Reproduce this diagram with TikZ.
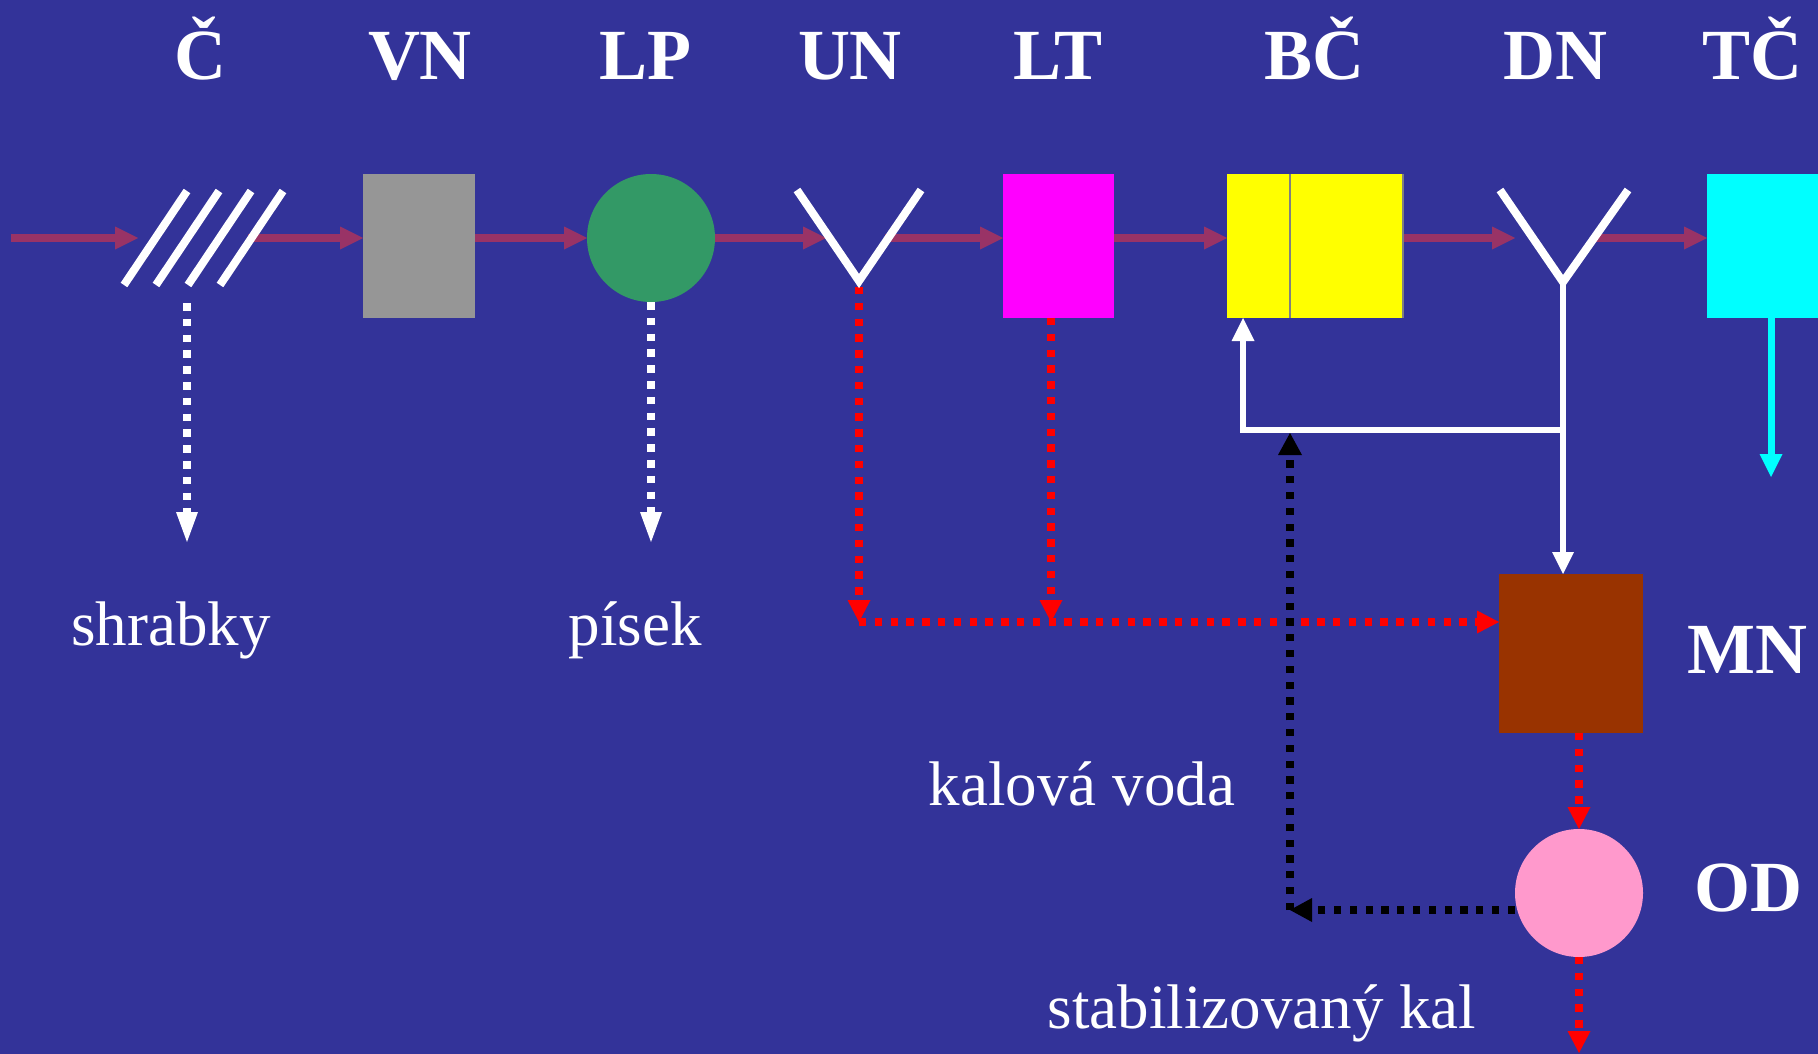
\documentclass[tikz,border=0pt]{standalone}
\usepackage{fontspec}
\setmainfont{Liberation Serif}
\usetikzlibrary{arrows.meta}
\pgfdeclarelayer{bg}
\pgfdeclarelayer{conn}
\pgfsetlayers{bg,conn,main}
\definecolor{bgblue}{RGB}{51,51,153}
\definecolor{flowc}{RGB}{153,51,102}
\definecolor{vngray}{RGB}{150,150,150}
\definecolor{lpgreen}{RGB}{51,153,102}
\definecolor{mnbrown}{RGB}{153,51,0}
\definecolor{odpink}{RGB}{255,153,204}
\definecolor{divgray}{RGB}{128,128,128}
\definecolor{ltmag}{RGB}{255,0,255}
\definecolor{bcyel}{RGB}{255,255,0}
\definecolor{tccyan}{RGB}{0,255,255}
\definecolor{dotred}{RGB}{255,0,0}
\begin{document}
\begin{tikzpicture}[x=1pt,y=-1pt,
  code/.style={text=white,font=\fontsize{72}{80}\selectfont\bfseries,inner sep=0pt,anchor=base},
  lbl/.style={text=white,font=\fontsize{63}{70}\selectfont,inner sep=0pt,anchor=base},
  box/.style={rectangle,inner sep=0pt,outer sep=0pt,draw=none},
  disc/.style={circle,inner sep=0pt,outer sep=0pt,draw=none,minimum size=128pt},
  flow/.style={draw=flowc,line width=8pt,-{Triangle[length=23pt,width=23pt,line width=0pt]}},
  wdot/.style={draw=white,line width=7.5pt,dash pattern=on 7.5pt off 8.3pt,-{Triangle[length=30pt,width=22pt,line width=0pt]}},
  rdot/.style={draw=dotred,line width=7.3pt,dash pattern=on 7.3pt off 8.5pt,-{Triangle[length=22pt,width=23pt,line width=0pt]}},
  kdot/.style={draw=black,line width=7.3pt,dash pattern=on 7.3pt off 8.5pt,-{Triangle[length=22pt,width=24pt,line width=0pt]}},
  sym/.style={draw=white,line width=8pt,line join=miter},
  wline/.style={draw=white,line width=6.5pt,line join=miter},
  cline/.style={draw=tccyan,line width=7pt,-{Triangle[length=23pt,width=23pt,line width=0pt]}},
]
\useasboundingbox (0,0) rectangle (1818,1054);
\begin{pgfonlayer}{bg}
\fill[bgblue] (0,0) rectangle (1818,1054);
\end{pgfonlayer}

% titles
\node[code] (tC)  at (200,80) {Č};
\node[code] (tVN) at (420,80) {VN};
\node[code] (tLP) at (645,80) {LP};
\node[code] (tUN) at (850,80) {UN};
\node[code] (tLT) at (1058,80) {LT};
\node[code] (tBC) at (1314,80) {BČ};
\node[code] (tDN) at (1555,80) {DN};
\node[code] (tTC) at (1752,80) {TČ};
\node[code] (tMN) at (1747,673) {MN};
\node[code] (tOD) at (1748,911) {OD};

% units
\node[box,fill=vngray,minimum width=112pt,minimum height=144pt] (VN) at (419,246) {};
\node[disc,fill=lpgreen] (LP) at (651,238) {};
\node[box,fill=ltmag,minimum width=111pt,minimum height=144pt] (LT) at (1058.5,246) {};
\node[box,fill=bcyel,minimum width=176pt,minimum height=144pt] (BC) at (1315,246) {};
\draw[divgray,line width=1.5pt] (1290,174) -- (1290,318);
\draw[divgray,line width=1.5pt] (1403,174) -- (1403,318);
\node[box,fill=tccyan,minimum width=111pt,minimum height=144pt] (TC) at (1762.5,246) {};
\node[box,fill=mnbrown,minimum width=144pt,minimum height=159pt] (MN) at (1571,653.5) {};
\node[disc,fill=odpink] (OD) at (1579,893) {};

% screen bars
\foreach \i in {0,1,2,3} \draw[sym] (124+32*\i,285) -- (187+32*\i,191);
% UN and DN symbols
\draw[sym] (797,190) -- (859,281) -- (921,190);
\draw[sym] (1500,190) -- (1563,282) -- (1628,190);

% labels
\node[lbl] (lS) at (171,645) {shrabky};
\node[lbl] (lP) at (635,645) {písek};
\node[lbl] (lK) at (1082,805) {kalová voda};
\node[lbl] (lSt) at (1262,1028) {stabilizovaný kal};

% coordinates
\coordinate (fy) at (0,238);
\coordinate (start) at (11,238);
\coordinate (Cin) at (138,238);
\coordinate (Cout) at (248,238);
\coordinate (UNin) at (826,238);
\coordinate (UNout) at (885,238);
\coordinate (UNb) at (859,287);
\coordinate (DNin) at (1515,238);
\coordinate (DNout) at (1592,238);
\coordinate (DNj) at (1563,282);
\coordinate (Cdot) at (187,303);
\coordinate (Cend) at (187,542);
\coordinate (LPend) at (651,542);
\coordinate (rh) at (859,622);
\coordinate (LTx) at (1051,318);
\coordinate (fb) at (1563,430);
\coordinate (fbL) at (1243,430);
\coordinate (kc) at (1290,910);
\coordinate (ktip) at (1290,433);
\coordinate (cy) at (1771,477);
\coordinate (ODout) at (1579,1053);

\begin{pgfonlayer}{conn}
\draw[flow] (start) -- (Cin);
\draw[flow] (Cout) -- (VN.west |- fy);
\draw[flow] (VN.east |- fy) -- (LP.west);
\draw[flow] (LP.east) -- (UNin);
\draw[flow] (UNout) -- (LT.west |- fy);
\draw[flow] (LT.east |- fy) -- (BC.west |- fy);
\draw[flow] (BC.east |- fy) -- (DNin);
\draw[flow] (DNout) -- (TC.west |- fy);

\draw[wdot] (Cdot) -- (Cend);
\draw[wdot] (LP.south) -- (LPend);

\draw[rdot] (UNb) -- (rh);
\draw[rdot] (LTx) -- (LTx |- rh);
\draw[rdot] (rh) -- (MN.west |- rh);
\draw[rdot] (OD.north |- MN.south) -- (OD.north);
\draw[rdot] (OD.south) -- (ODout);

\draw[wline,-{Triangle[length=22pt,width=22pt,line width=0pt]}] (DNj) -- (DNj |- MN.north);
\draw[wline,-{Triangle[length=23pt,width=23pt,line width=0pt]}] (fb) -- (fbL) -- (fbL |- BC.south);

\draw[kdot] (OD.west |- kc) -- (kc);
\draw[kdot] (kc) -- (ktip);

\draw[cline] (TC.south -| cy) -- (cy);
\end{pgfonlayer}
\end{tikzpicture}
\end{document}
